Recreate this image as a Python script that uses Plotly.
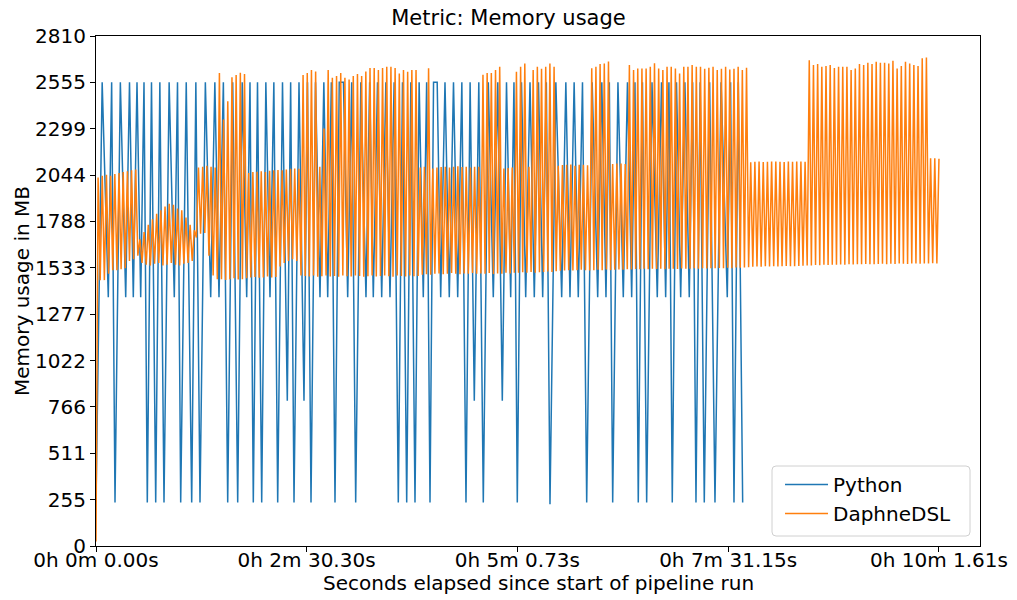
import plotly.graph_objects as go

# ---------------------------------------------------------------------------
# Python pipeline: memory samples (seconds since start, MB)
# ---------------------------------------------------------------------------
py_t = [
    0.0, 4.4, 8.78, 11.17, 13.56, 17.38, 21.20, 23.91, 26.62, 29.26,
    31.90, 34.26, 36.61, 39.61, 42.61, 45.57, 48.53, 52.2, 55.88, 58.17,
    60.45, 64.4, 68.30, 71.26, 74.22, 78.04, 81.86, 84.82, 87.78, 90.9,
    93.99, 97.56, 101.13, 104.34, 107.55, 109.9, 112.26, 115.26, 118.26, 121.22,
    124.18, 126.93, 129.68, 133.1, 136.53, 138.92, 141.31, 144.87, 148.44, 150.94,
    153.44, 156.65, 159.86, 162.61, 165.36, 167.96, 170.57, 173.6, 176.6, 179.63,
    182.48, 185.34, 189.0, 192.69, 195.3, 197.90, 200.9, 203.90, 206.86, 209.82,
    212.78, 215.74, 218.74, 221.74, 224.7, 227.66, 230.62, 233.58, 235.98, 238.37,
    240.9, 243.5, 246.00, 249.07, 252.14, 255.14, 258.14, 261.1, 264.06, 267.0,
    269.98, 273.2, 276.41, 279.98, 283.54, 286.76, 289.97, 292.97, 295.96, 298.3,
    300.67, 303.67, 306.67, 309.74, 312.80, 315.8, 318.80, 321.4, 324.01, 328.2,
    332.36, 335.32, 338.28, 341.24, 344.20, 347.2, 350.20, 354.1, 358.05, 361.0,
    363.97, 366.36, 368.75, 372.5, 376.32, 379.3, 382.31, 384.66, 387.02, 390.0,
    393.01, 396.8, 400.58, 403.6, 406.57, 408.9, 411.28, 414.3, 417.28, 420.3,
    423.41, 425.8, 428.20, 431.16, 434.12, 437.94, 441.76, 446.1, 450.53, 452.9,
    455.32, 458.4, 461.53,
]
py_mb = [
    240, 2555, 1370, 2555, 240, 2555, 1370, 2555, 1370, 2555,
    1370, 2555, 240, 2555, 240, 2555, 240, 2555, 1370, 2555,
    240, 2555, 240, 2555, 240, 2555, 1370, 2555, 1370, 2555,
    240, 2555, 240, 2555, 1370, 2555, 240, 2555, 240, 2555,
    1370, 2555, 240, 2555, 800, 2555, 240, 2555, 800, 2555,
    240, 2555, 1370, 2555, 1370, 2555, 240, 2555, 2555, 1370,
    2555, 240, 2555, 1370, 2555, 1370, 2555, 1370, 2555, 1370,
    2555, 240, 2555, 240, 2555, 240, 2555, 1370, 2555, 240,
    2555, 2555, 1370, 2555, 1370, 2555, 1370, 2555, 240, 2555,
    800, 2555, 240, 2555, 1370, 2555, 800, 2555, 1370, 2555,
    240, 2555, 1370, 2555, 1370, 2555, 1370, 2555, 230, 2555,
    1370, 2555, 1370, 2555, 1370, 2555, 240, 2555, 1370, 2555,
    1370, 2555, 240, 2555, 1370, 2555, 1370, 2555, 240, 2555,
    240, 2555, 1370, 2555, 1370, 2555, 240, 2555, 1370, 2555,
    1370, 2555, 240, 2555, 240, 2555, 240, 2555, 1370, 2555,
    240, 2555, 240,
]

# ---------------------------------------------------------------------------
# DaphneDSL pipeline: sampled every DAPHNE_SAMPLE_S seconds.
# First sample, then alternating cycle peak / cycle trough (MB).
# ---------------------------------------------------------------------------
DAPHNE_SAMPLE_S = 601.61 / 403
daphne_start_mb = 25
daphne_peaks = [
    2030, 2040, 2045, 2040, 2050, 2055, 2060, 2065, 2070, 2075,
    1690, 1730, 1770, 1800, 1830, 1850, 1870, 1885, 1880, 1860, 1850, 1810, 1770, 1740,
    2085, 2090, 2095, 2090, 2085,
    2606, 2350, 2450, 2583, 2595, 2608, 2600,
    2055, 2060, 2062, 2065, 2060, 2068, 2070, 2072, 2070, 2075, 2078, 2080, 2078,
    2595, 2606, 2622, 2614, 2090, 2300, 2622, 2580, 2590, 2606, 2580, 2570, 2590, 2600,
    2590, 2614, 2633, 2633, 2622, 2633, 2640, 2640, 2633, 2604, 2622, 2613, 2622, 2622,
    2085, 2090, 2632,
    2080, 2085, 2088, 2090, 2085, 2090, 2092, 2088, 2090, 2085, 2090,
    2090, 2597, 2606, 2606, 2622, 2640,
    2080, 2082, 2085,
    2613, 2640, 2659, 2090, 2622, 2640, 2630, 2640, 2659, 2640,
    2095, 2099, 2100, 2102, 2095, 2100, 2100, 2098,
    2632, 2640, 2655, 2659, 2670,
    2105, 2108, 2108, 2105,
    2650, 2622, 2631, 2631, 2631, 2641, 2660, 2631, 2622, 2641, 2641, 2631, 2604, 2641,
    2641, 2650, 2641, 2641, 2630, 2635, 2641, 2622, 2630, 2641, 2625, 2630, 2641, 2622, 2635,
    2115, 2117, 2118, 2116, 2117, 2119, 2118, 2117, 2116, 2118, 2117, 2119, 2118, 2117,
    2677, 2650, 2655, 2640, 2645, 2650, 2633, 2640, 2640, 2640, 2622, 2631, 2655, 2650,
    2662, 2655, 2668, 2662, 2662, 2659, 2673, 2631, 2645, 2668, 2659, 2650, 2645, 2687, 2692,
    2136, 2136, 2134,
]
daphne_troughs = [
    1465, 1465, 1500, 1520, 1520, 1525, 1530, 1570, 1580, 1600,
    1560, 1550, 1545, 1555, 1560, 1545, 1550, 1560, 1550, 1545, 1555, 1560, 1570, 1700,
    1720, 1725, 1600, 1490, 1470,
    1470, 1465, 1470, 1475, 1468, 1470, 1475,
    1480, 1482, 1478, 1480, 1485, 1480, 1482, 1540, 1560, 1570, 1580, 1570, 1490,
    1488, 1485, 1490, 1484, 1486, 1490, 1485, 1488, 1484, 1490, 1486, 1485, 1490, 1488,
    1484, 1486, 1490, 1485, 1488, 1490, 1486, 1484, 1490, 1488, 1485, 1490, 1486, 1488,
    1495, 1498, 1495,
    1500, 1502, 1498, 1500, 1504, 1500, 1498, 1502, 1500, 1504, 1500,
    1502, 1500, 1504, 1498, 1502, 1500,
    1505, 1502, 1505,
    1505, 1508, 1505, 1510, 1506, 1508, 1510, 1512, 1510, 1514,
    1516, 1518, 1520, 1518, 1520, 1522, 1520, 1518,
    1520, 1522, 1520, 1524, 1520,
    1522, 1524, 1522, 1525,
    1524, 1526, 1525, 1528, 1525, 1527, 1526, 1528, 1525, 1527, 1528, 1526, 1529, 1527,
    1528, 1530, 1528, 1530, 1529, 1531, 1530, 1532, 1530, 1533, 1531, 1534, 1533, 1535, 1536,
    1538, 1540, 1539, 1541, 1540, 1542, 1540, 1541, 1543, 1542, 1541, 1543, 1544, 1545,
    1546, 1548, 1547, 1549, 1548, 1550, 1549, 1551, 1550, 1552, 1551, 1553, 1552, 1554,
    1553, 1552, 1554, 1555, 1553, 1555, 1554, 1556, 1555, 1554, 1556, 1557, 1555, 1556, 1557,
    1558, 1556,
]

# Axis ticks
x_tick_s = [0.0, 150.30, 300.73, 451.15, 601.61]
x_tick_text = ["0h 0m 0.00s", "0h 2m 30.30s", "0h 5m 0.73s", "0h 7m 31.15s", "0h 10m 1.61s"]
Y_MAX_MB = 2810
y_tick_mb = [Y_MAX_MB * k / 11 for k in range(12)]
y_tick_text = [str(int(round(v))) for v in y_tick_mb]

# Interleave the DaphneDSL cycles into one sample series
daphne_mb = [daphne_start_mb]
for k, peak in enumerate(daphne_peaks):
    daphne_mb.append(peak)
    if k < len(daphne_troughs):
        daphne_mb.append(daphne_troughs[k])
daphne_t = [i * DAPHNE_SAMPLE_S for i in range(len(daphne_mb))]

fig = go.Figure()
fig.add_trace(go.Scatter(x=py_t, y=py_mb, mode="lines", name="Python",
                         line=dict(color="#1f77b4", width=1.5)))
fig.add_trace(go.Scatter(x=daphne_t, y=daphne_mb, mode="lines", name="DaphneDSL",
                         line=dict(color="#ff7f0e", width=1.5)))

FONT = "DejaVu Sans"
TXT = dict(family=FONT, size=20, color="#000000")
axis_common = dict(
    showgrid=False, zeroline=False, showline=True, linecolor="#000000",
    linewidth=1, mirror=True, ticks="outside", ticklen=5, tickwidth=1,
    tickcolor="#000000", tickfont=TXT, automargin=False,
)

# Rounded legend frame, sized in pixels from the lower-left plot corner
r = 4
x0, x1, y0, y1 = 676, 874, 10, 80
frame_path = (
    f"M{x0 + r},{y0} L{x1 - r},{y0} Q{x1},{y0} {x1},{y0 + r} "
    f"L{x1},{y1 - r} Q{x1},{y1} {x1 - r},{y1} "
    f"L{x0 + r},{y1} Q{x0},{y1} {x0},{y1 - r} "
    f"L{x0},{y0 + r} Q{x0},{y0} {x0 + r},{y0} Z"
)

fig.update_layout(
    width=1017, height=600,
    margin=dict(l=96, r=37, t=36, b=54),
    paper_bgcolor="white", plot_bgcolor="white",
    font=TXT,
    # figure-level title, centred on the whole canvas
    title=dict(text="Metric: Memory usage", x=0.5, xref="container", xanchor="center",
               y=1 - 18 / 600, yref="container", yanchor="middle",
               font=dict(family=FONT, size=21, color="#000000")),
    showlegend=True,
    legend=dict(x=0.974, y=0.0255, xanchor="right", yanchor="bottom",
                bgcolor="rgba(0,0,0,0)", borderwidth=0, itemwidth=43,
                font=TXT),
    shapes=[dict(type="path", xref="paper", yref="paper", xsizemode="pixel",
                 ysizemode="pixel", xanchor=0, yanchor=0, path=frame_path,
                 fillcolor="rgba(255,255,255,0.8)",
                 line=dict(color="#d0d0d0", width=1), layer="above")],
    xaxis=dict(range=[0, 630.9], tickvals=x_tick_s, ticktext=x_tick_text,
               ticklabelstandoff=-9, **axis_common),
    yaxis=dict(range=[0, Y_MAX_MB], tickvals=y_tick_mb, ticktext=y_tick_text,
               **axis_common),
    annotations=[
        dict(text="Seconds elapsed since start of pipeline run", xref="paper",
             yref="paper", x=0.5, y=(546 - 583) / 510, xanchor="center",
             yanchor="middle", showarrow=False, font=TXT),
        dict(text="Memory usage in MB", xref="paper", yref="paper",
             x=(22 - 96) / 884, y=0.5, xanchor="center", yanchor="middle",
             textangle=-90, showarrow=False, font=TXT),
    ],
)

fig.write_html("out.html")
